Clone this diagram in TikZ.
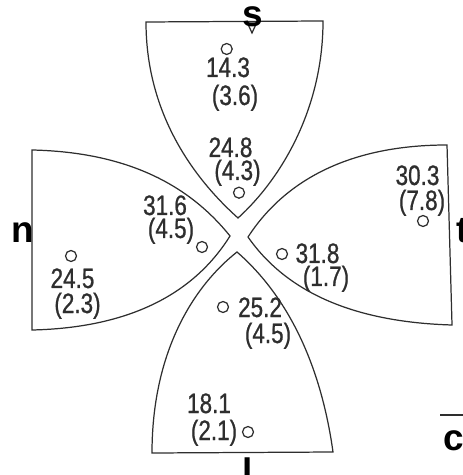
\documentclass[tikz,border=0pt]{standalone}
\usepackage{fontspec}
\setmainfont{Liberation Sans}
\newfontfamily\numfont[FakeStretch=0.8,FakeBold=0.8]{Liberation Sans}
\definecolor{petalink}{HTML}{2e2e2e}

\begin{document}
\begin{tikzpicture}[x=0.02cm,y=-0.02cm,
  petal/.style={draw=petalink,line width=0.7pt},
  spot/.style={circle,draw=petalink,line width=0.7pt,minimum size=0.22cm,inner sep=0pt},
  num/.style={anchor=base,inner sep=0pt,text depth=0pt,text=petalink,font=\numfont\fontsize{16}{18}\selectfont},
  side/.style={anchor=base,inner sep=0pt,font=\bfseries\fontsize{21}{24}\selectfont}]
  \useasboundingbox (0,0) rectangle (462,475);
  % the four petals
  \draw[petal] (146,22) -- (323,21) .. controls (323,110) and (280,180) .. (238,218)
    .. controls (190,175) and (146,110) .. cycle;
  \draw[petal] (32,150) .. controls (120,152) and (185,180) .. (230,236)
    .. controls (190,300) and (120,328) .. (32,330) -- cycle;
  \draw[petal] (447,145) .. controls (350,145) and (285,180) .. (248,237)
    .. controls (285,290) and (350,322) .. (452,325) -- cycle;
  \draw[petal] (237,252) .. controls (275,285) and (318,345) .. (333,452)
    -- (152,453) .. controls (152,350) and (195,285) .. cycle;
  \draw[petal] (247,22) -- (257,22) -- (252,33) -- cycle;
  % side letters
  \node[side] (s) at (253,27) {s};
  \node[side] (n) at (22.5,243) {n};
  \node[side,anchor=base west] (t) at (456,243) {t};
  \node[side] (l) at (247.5,484) {l};
  \node[side,anchor=base west] (c) at (443,450) {c};
  \draw[petalink,line width=1.2pt] (440,415) -- (463,415);
  % top
  \node[spot] (o1) at (226.7,49) {};
  \node[num] (v1) at (228,77) {14.3};
  \node[num] (d1) at (235,105) {(3.6)};
  \node[num] (v2) at (230.5,157) {24.8};
  \node[num] (d2) at (237.5,180) {(4.3)};
  \node[spot] (o2) at (239,192.7) {};
  % left
  \node[num] (v3) at (165,215) {31.6};
  \node[num] (d3) at (171,238) {(4.5)};
  \node[spot] (o3) at (202,247) {};
  \node[spot] (o4) at (71,256) {};
  \node[num] (v4) at (72.5,288) {24.5};
  \node[num] (d4) at (77.5,313) {(2.3)};
  % right
  \node[num] (v5) at (417.5,185) {30.3};
  \node[num] (d5) at (422,210) {(7.8)};
  \node[spot] (o5) at (423,221) {};
  \node[spot] (o6) at (282,254) {};
  \node[num] (v6) at (317.5,263) {31.8};
  \node[num] (d6) at (326,286) {(1.7)};
  % bottom
  \node[spot] (o7) at (223,307) {};
  \node[num] (v7) at (260,317) {25.2};
  \node[num] (d7) at (268,343) {(4.5)};
  \node[num] (v8) at (209,413) {18.1};
  \node[num] (d8) at (214,440) {(2.1)};
  \node[spot] (o8) at (248,432) {};
\end{tikzpicture}
\end{document}
